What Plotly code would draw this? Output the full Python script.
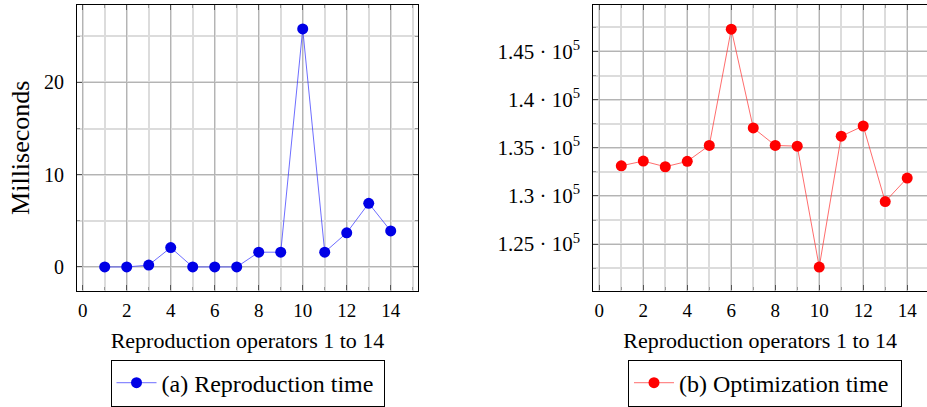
import plotly.graph_objects as go

# ---- data ----
operators = list(range(1, 15))
reproduction_ms = [0, 0, 0.2, 2.1, 0, 0, 0, 1.6, 1.6, 25.8, 1.6, 3.7, 6.9, 3.9]
optimization_ms = [133130, 133620, 133030, 133590, 135240, 147310, 137060,
                   135240, 135170, 122620, 136200, 137260, 129410, 131860]

x_tick_vals = [0, 2, 4, 6, 8, 10, 12, 14]
x_tick_labels = ["0", "2", "4", "6", "8", "10", "12", "14"]
left_y_tick_vals = [0, 10, 20]
left_y_tick_labels = ["0", "10", "20"]
right_y_tick_vals = [125000, 130000, 135000, 140000, 145000]
right_y_tick_labels = ["1.25 · 10<sup>5</sup>", "1.3 · 10<sup>5</sup>", "1.35 · 10<sup>5</sup>",
                       "1.4 · 10<sup>5</sup>", "1.45 · 10<sup>5</sup>"]

x_title = "Reproduction operators 1 to 14"
left_y_title = "Milliseconds"
name_a = "(a) Reproduction time"
name_b = "(b) Optimization time"

W, H = 927, 407
FONT = "Liberation Serif"

fig = go.Figure()
fig.add_trace(go.Scatter(
    x=operators, y=reproduction_ms, mode="lines+markers", name=name_a,
    line=dict(color="rgba(60,60,255,0.75)", width=1),
    marker=dict(color="#0000e6", size=11, line=dict(width=0)),
    xaxis="x", yaxis="y", legend="legend"))
fig.add_trace(go.Scatter(
    x=operators, y=optimization_ms, mode="lines+markers", name=name_b,
    line=dict(color="rgba(255,60,60,0.75)", width=1),
    marker=dict(color="#ff0000", size=11, line=dict(width=0)),
    xaxis="x2", yaxis="y2", legend="legend2"))

grid_major = "#b4b4b4"
grid_minor = "#dcdcdc"
tickc = "#555555"

def xax(domain, rng, mirror):
    return dict(
        domain=domain, range=rng, tickvals=x_tick_vals, ticktext=x_tick_labels,
        ticks="inside", ticklen=5, tickcolor=tickc, tickwidth=1,
        showline=True, linecolor="black", linewidth=1.2, mirror=mirror,
        showgrid=True, gridcolor=grid_major, gridwidth=1,
        minor=dict(dtick=1, tick0=1, ticks="inside", ticklen=3, tickcolor="#999999",
                   showgrid=True, gridcolor=grid_minor, gridwidth=1.5),
        zeroline=False, tickfont=dict(family=FONT, size=19, color="black"),
        title=dict(text=x_title, font=dict(family=FONT, size=22, color="black"), standoff=12),
        ticklabelstandoff=3, fixedrange=True)

ydom = [(H - 292) / H, (H - 5) / H]

legend_common = dict(yanchor="middle", xanchor="center", orientation="h",
                     bordercolor="black", borderwidth=1, bgcolor="white",
                     font=dict(family=FONT, size=24, color="black"),
                     itemwidth=40, entrywidth=217, entrywidthmode="pixels")

fig.update_layout(
    width=W, height=H, margin=dict(l=0, r=0, t=0, b=0),
    paper_bgcolor="white", plot_bgcolor="white",
    xaxis=xax([77 / W, 418 / W], [-0.26, 15.24], "ticks"),
    xaxis2=dict(xax([593.3 / W, 1.0], [-0.273, 14.9], "ticks"), anchor="y2"),
    yaxis=dict(
        domain=ydom, range=[-2.56, 28.4], tickvals=left_y_tick_vals, ticktext=left_y_tick_labels,
        ticks="inside", ticklen=5, tickcolor=tickc, showline=True, linecolor="black",
        linewidth=1.2, mirror="ticks", showgrid=True, gridcolor=grid_major, gridwidth=1,
        minor=dict(dtick=5, tick0=0, ticks="inside", ticklen=3, tickcolor="#999999",
                   showgrid=True, gridcolor=grid_minor, gridwidth=1.5),
        zeroline=False, tickfont=dict(family=FONT, size=20, color="black"),
        ticklabelstandoff=8,
        title=dict(text=left_y_title, font=dict(family=FONT, size=26, color="black"), standoff=6),
        fixedrange=True),
    yaxis2=dict(
        domain=ydom, anchor="x2", range=[120176, 149824], tickvals=right_y_tick_vals,
        ticktext=right_y_tick_labels,
        ticks="inside", ticklen=5, tickcolor=tickc, showline=True, linecolor="black",
        linewidth=1.2, mirror=False, showgrid=True, gridcolor=grid_major, gridwidth=1,
        minor=dict(dtick=2500, tick0=0, ticks="inside", ticklen=3, tickcolor="#999999",
                   showgrid=True, gridcolor=grid_minor, gridwidth=1.5),
        zeroline=False, tickfont=dict(family=FONT, size=21, color="black"),
        ticklabelstandoff=8, fixedrange=True),
    legend=dict(legend_common, x=247.5 / W, y=(H - 385) / H),
    legend2=dict(legend_common, x=765 / W, y=(H - 385) / H),
    showlegend=True,
)

fig.write_html("out.html", config={"displayModeBar": False},
               post_script="document.body.style.margin='0';document.body.style.overflow='hidden';")
